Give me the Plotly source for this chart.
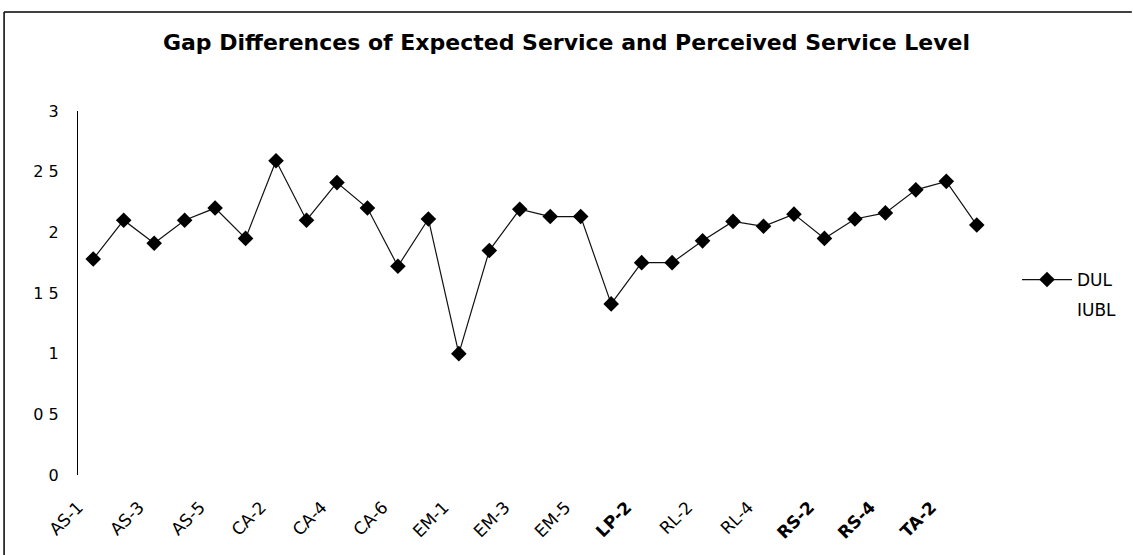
import plotly.graph_objects as go

categories = ["AS-1", "AS-2", "AS-3", "AS-4", "AS-5",
              "CA-1", "CA-2", "CA-3", "CA-4", "CA-5", "CA-6", "CA-7",
              "EM-1", "EM-2", "EM-3", "EM-4", "EM-5",
              "LP-1", "LP-2", "RL-1", "RL-2", "RL-3", "RL-4", "RS-1",
              "RS-2", "RS-3", "RS-4", "TA-1", "TA-2", "TA-3"]
dul = [1.78, 2.10, 1.91, 2.10, 2.20,
       1.95, 2.59, 2.10, 2.41, 2.20, 1.72, 2.11,
       1.00, 1.85, 2.19, 2.13, 2.13,
       1.41, 1.75, 1.75, 1.93, 2.09, 2.05, 2.15,
       1.95, 2.11, 2.16, 2.35, 2.42, 2.06]
iubl = [None] * len(categories)

shown_ticks = categories[::2]
tick_text = ["AS-1", "AS-3", "AS-5", "CA-2", "CA-4", "CA-6", "EM-1", "EM-3",
             "EM-5", "<b>LP-2</b>", "RL-2", "RL-4", "<b>RS-2</b>", "<b>RS-4</b>", "<b>TA-2</b>"]
y_ticks = [0, 0.5, 1, 1.5, 2, 2.5, 3]
y_tick_text = ["0", "0 5", "1", "1 5", "2", "2 5", "3"]

FONT = "DejaVu Sans, Liberation Sans, Arial, sans-serif"

fig = go.Figure()
fig.add_trace(go.Scatter(
    x=categories, y=dul, name="DUL", mode="lines+markers",
    legendgroup="a",
    line=dict(color="#111111", width=1.2),
    marker=dict(symbol="diamond", size=12, color="black"),
))
fig.add_trace(go.Scatter(
    x=categories, y=iubl, name="IUBL", mode="lines",
    legendgroup="b",
    line=dict(color="white", width=1.2),
))

fig.update_layout(
    width=1133, height=555,
    margin=dict(l=78, r=140, t=111, b=80),
    paper_bgcolor="white", plot_bgcolor="white",
    font=dict(family=FONT, color="black", size=16),
    title=dict(text="<b>Gap Differences of Expected Service and Perceived Service Level</b>",
               x=0.5, xanchor="center", xref="container", y=1 - 42 / 555, yanchor="middle",
               font=dict(size=22, family=FONT, color="black")),
    showlegend=True,
    legend=dict(x=(1017 - 78) / 915, xanchor="left", y=(475 - 262) / 364, yanchor="top",
                font=dict(size=17, family=FONT), bgcolor="rgba(0,0,0,0)",
                itemwidth=50, traceorder="grouped", tracegroupgap=5),
    xaxis=dict(type="category", range=[-0.5, len(categories) - 0.5],
               tickmode="array", tickvals=shown_ticks, ticktext=tick_text,
               tickangle=-45, showgrid=False, showline=False, zeroline=False,
               ticks="", ticklabelstandoff=18, ticklabelshift=-15,
               tickfont=dict(size=17, family=FONT)),
    yaxis=dict(range=[0, 3], tickmode="array", tickvals=y_ticks, ticktext=y_tick_text,
               showgrid=False, zeroline=False, showline=True, linecolor="black",
               linewidth=1, ticks="", ticklabelstandoff=15,
               tickfont=dict(size=16, family=FONT)),
    shapes=[
        dict(type="line", xref="paper", yref="paper",
             x0=(4 - 78) / 915, x1=(1133 - 78) / 915,
             y0=(475 - 12) / 364, y1=(475 - 12) / 364,
             line=dict(color="black", width=1.5)),
        dict(type="line", xref="paper", yref="paper",
             x0=(4 - 78) / 915, x1=(4 - 78) / 915,
             y0=(475 - 12) / 364, y1=(475 - 555) / 364,
             line=dict(color="black", width=1.5)),
    ],
)

fig.write_html("out.html")
